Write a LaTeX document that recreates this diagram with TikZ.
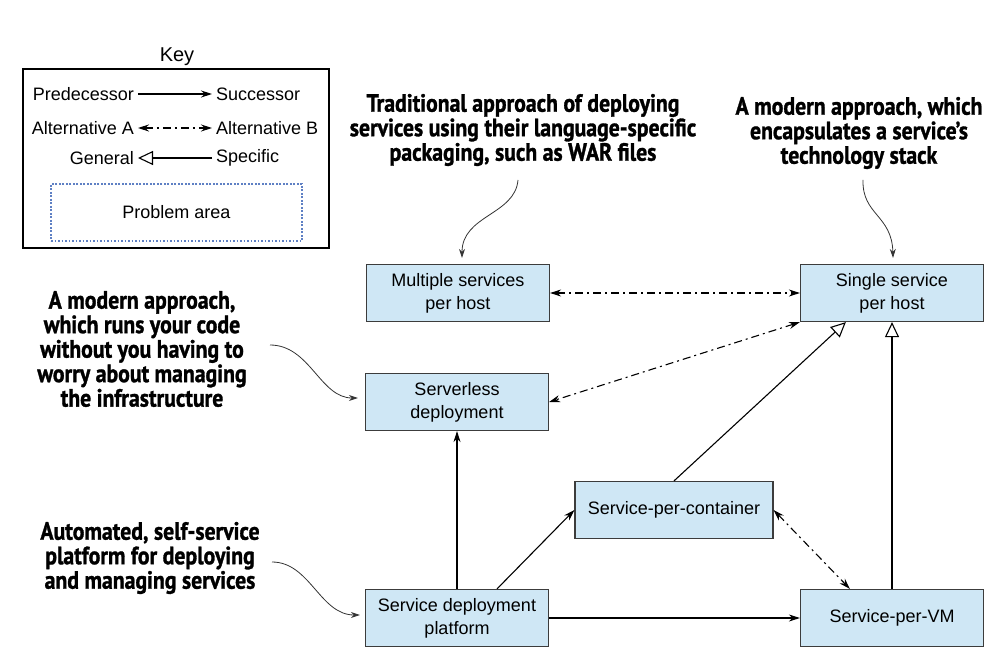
\documentclass[tikz,border=0pt]{standalone}
\usepackage{fontspec}
\setmainfont{Liberation Sans}
\newfontfamily\annfont[FakeStretch=0.87, BoldFeatures={FakeBold=1.2}]{PT Sans}
\usetikzlibrary{arrows.meta}
\definecolor{boxblue}{HTML}{CFE7F5}
\definecolor{framegray}{HTML}{3C3C3C}
\definecolor{dotblue}{HTML}{5F80C4}

\begin{document}
\begin{tikzpicture}[
    x=1pt, y=-1pt,
    font=\fontsize{18}{23}\selectfont,
    svc/.style={rectangle, draw=framegray, fill=boxblue, line width=1.2pt, minimum width=183pt, minimum height=57pt, align=center, inner sep=2pt},
    note/.style={font=\annfont\bfseries\fontsize{25}{24.5}\selectfont, align=center},
    succ/.style={-{Stealth[length=11pt, width=7pt]}, line width=1.1pt},
    alt/.style={{Stealth[length=11pt, width=7pt]}-{Stealth[length=11pt, width=7pt]}, line width=1.1pt, dash pattern=on 8pt off 4pt on 2pt off 4pt},
    gen/.style={-{Triangle[open, length=15pt, width=14pt]}, line width=1.1pt},
    pointer/.style={-{Stealth[length=9pt, width=6pt]}, line width=0.8pt, draw=black!80},
    keytext/.style={inner sep=4pt}
]
\useasboundingbox (0,0) rectangle (1000,668);
% Key
\node[font=\fontsize{20}{24}\selectfont] (keytitle) at (177,57) {Key};
\node[draw, line width=1.2pt, minimum width=306pt, minimum height=179pt] (keybox) at (176,158.5) {};
\node[keytext, anchor=east] (keypred) at (138,94) {Predecessor};
\node[keytext, anchor=west] (keysucc) at (212,94) {Successor};
\node[keytext, anchor=east] (keyaltA) at (138,128) {Alternative A};
\node[keytext, anchor=west] (keyaltB) at (212,128) {Alternative B};
\node[keytext, anchor=east] (keygen) at (138,158) {General};
\node[keytext, anchor=west] (keyspec) at (212,158) {Specific};
\draw[succ] (keypred) -- (keysucc);
\draw[alt] (keyaltA) -- (keyaltB);
\draw[gen] (keyspec) -- (keygen);
\node[draw=dotblue, dash pattern=on 1.6pt off 1.9pt, line width=1.3pt, minimum width=251pt, minimum height=57pt] (problem) at (176.5,212.5) {Problem area};

% Deployment patterns
\node[svc] (multi) at (458,293) {Multiple services\\per host};
\node[svc] (single) at (892,293) {Single service\\per host};
\node[svc] (serverless) at (457,402) {Serverless\\deployment};
\node[svc, minimum width=198pt] (container) at (674,510) {Service-per-container};
\node[svc] (vm) at (892,618) {Service-per-VM};
\node[svc] (platform) at (457,618) {Service deployment\\platform};

\draw[alt] (multi) -- (single);
\draw[alt] (single.south west) -- (serverless.east);
\draw[alt] (container.east) -- ([xshift=50pt]vm.north west);
\draw[gen] (container.north) -- ([xshift=46pt]single.south west);
\draw[gen] (vm) -- (single);
\draw[succ] (platform.north) -- (serverless.south);
\draw[succ] ([xshift=40pt]platform.north) -- (container.west);
\draw[succ] (platform) -- (vm);

% Annotations
\node[note] (warnote) at (523,130) {Traditional approach of deploying\\services using their language-specific\\packaging, such as WAR files};
\node[note] (stacknote) at (859,133) {A modern approach, which\\encapsulates a service’s\\technology stack};
\node[note] (lambdanote) at (142,349) {A modern approach,\\which runs your code\\without you having to\\worry about managing\\the infrastructure};
\node[note] (platnote) at (150,558) {Automated, self-service\\platform for deploying\\and managing services};

\coordinate (warfrom) at (518,180);
\coordinate (stackfrom) at (863,180);
\coordinate (lambdafrom) at (270,345);
\coordinate (platfrom) at (272,562);
\draw[pointer] (warfrom) .. controls (515,215) and (462,215) .. ([shift={(4,-6)}]multi.north);
\draw[pointer] (stackfrom) .. controls (862,215) and (892,215) .. ([shift={(1,-6)}]single.north);
\draw[pointer] (lambdafrom) .. controls (310,345) and (320,398) .. ([shift={(-7,-4)}]serverless.west);
\draw[pointer] (platfrom) .. controls (310,562) and (320,615) .. ([shift={(-5,-3)}]platform.west);
\end{tikzpicture}
\end{document}
